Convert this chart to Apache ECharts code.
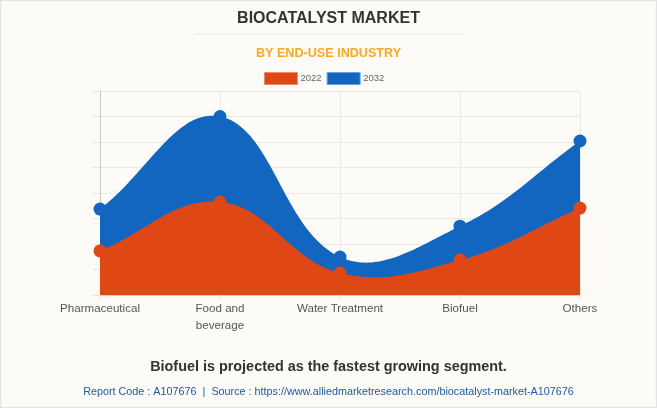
<!DOCTYPE html>
<html>
<head>
<meta charset="utf-8">
<style>
html,body{margin:0;padding:0;background:#fcfbf7;}
#main{width:657px;height:408px;}
</style>
<script src="https://cdn.jsdelivr.net/npm/echarts@6/dist/echarts.min.js"></script>
</head>
<body>
<div id="main"></div>
<script>
var categories = ['Pharmaceutical', 'Food and\nbeverage', 'Water Treatment', 'Biofuel', 'Others'];
var values2022 = [1.73, 3.65, 0.86, 1.37, 3.41];
var values2032 = [3.37, 7.0, 1.49, 2.7, 6.04];
var colour2022 = '#df4814';
var colour2032 = '#1266c0';
var fontName = '"Liberation Sans", Arial, sans-serif';

// same curve the original chart has (it dips below the points, echarts smooth does not)
function curvePoints(api, values) {
    var pts = values.map(function (v, i) { return api.coord([i, v]); });
    var out = [];
    var tension = 0.4;
    function dist(a, b) { return Math.sqrt(Math.pow(a[0] - b[0], 2) + Math.pow(a[1] - b[1], 2)); }
    var ctrl = pts.map(function (p, i) {
        var prev = pts[i - 1] || p;
        var next = pts[i + 1] || p;
        var d1 = dist(prev, p);
        var d2 = dist(p, next);
        var s1 = d1 / (d1 + d2);
        var s2 = d2 / (d1 + d2);
        return {
            before: [p[0] - tension * s1 * (next[0] - prev[0]), p[1] - tension * s1 * (next[1] - prev[1])],
            after: [p[0] + tension * s2 * (next[0] - prev[0]), p[1] + tension * s2 * (next[1] - prev[1])]
        };
    });
    for (var i = 0; i < pts.length - 1; i++) {
        var a = pts[i], b = ctrl[i].after, c = ctrl[i + 1].before, d = pts[i + 1];
        for (var k = 0; k < 40; k++) {
            var t = k / 40, u = 1 - t;
            out.push([
                u * u * u * a[0] + 3 * u * u * t * b[0] + 3 * u * t * t * c[0] + t * t * t * d[0],
                u * u * u * a[1] + 3 * u * u * t * b[1] + 3 * u * t * t * c[1] + t * t * t * d[1]
            ]);
        }
    }
    out.push(pts[pts.length - 1]);
    return out;
}

function areaSeries(name, values, colour, z) {
    return {
        name: name,
        type: 'custom',
        z: z,
        silent: true,
        clip: false,
        data: values.map(function (v, i) { return [i, v]; }),
        renderItem: function (params, api) {
            if (params.dataIndex !== 0) return null;
            var points = curvePoints(api, values);
            points.push(api.coord([values.length - 1, 0]));
            points.push(api.coord([0, 0]));
            return { type: 'polygon', shape: { points: points }, style: { fill: colour } };
        }
    };
}

function dotSeries(name, values, colour, z) {
    return {
        name: name,
        type: 'line',
        z: z,
        data: values,
        symbol: 'circle',
        symbolSize: 13,
        showAllSymbol: true,
        clip: false,
        itemStyle: { color: colour },
        lineStyle: { width: 0, opacity: 0 }
    };
}

var myChart = echarts.init(document.getElementById('main'));
var option = {
    animation: false,
    backgroundColor: '#fcfbf7',
    textStyle: { fontFamily: fontName },
    title: [
        { text: 'BIOCATALYST MARKET', left: 'center', top: 6, textStyle: { fontSize: 16, fontWeight: 'bold', color: '#333333', fontFamily: fontName } },
        { text: 'BY END-USE INDUSTRY', left: 'center', top: 42, textStyle: { fontSize: 12.6, fontWeight: 'bold', color: '#f9a825', fontFamily: fontName } },
        { text: 'Biofuel is projected as the fastest growing segment.', left: 'center', top: 355, textStyle: { fontSize: 14.4, fontWeight: 'bold', color: '#333333', fontFamily: fontName } },
        { text: 'Report Code : A107676  |  Source : https://www.alliedmarketresearch.com/biocatalyst-market-A107676', left: 'center', top: 382, textStyle: { fontSize: 10.8, fontWeight: 'normal', color: '#1f5aa6', fontFamily: fontName } }
    ],
    legend: {
        top: 67,
        left: 259,
        itemWidth: 33,
        itemHeight: 12,
        itemGap: 5,
        textStyle: { fontSize: 9.5, color: '#666666', fontFamily: fontName, padding: [0, 0, 0, -2] },
        data: [
            { name: '2022', icon: 'rect', itemStyle: { color: colour2022, borderColor: '#ee8a66', borderWidth: 1 } },
            { name: '2032', icon: 'rect', itemStyle: { color: colour2032, borderColor: '#6a9fdc', borderWidth: 1 } }
        ]
    },
    grid: { left: 100, top: 91, width: 480, height: 204 },
    xAxis: {
        type: 'category',
        boundaryGap: false,
        data: categories,
        axisLine: { lineStyle: { color: '#cfcfcb', width: 1 } },
        axisTick: { length: 5, lineStyle: { color: '#e6e6e2' } },
        splitLine: { show: true, lineStyle: { color: '#eaeae6', width: 1 } },
        axisLabel: { fontSize: 11.6, color: '#555555', lineHeight: 17, margin: 5, interval: 0, fontFamily: fontName }
    },
    yAxis: {
        type: 'value',
        min: 0,
        max: 8,
        interval: 1,
        axisLine: { show: true, lineStyle: { color: '#c8c8c4', width: 1 } },
        axisTick: { show: true, length: 7, lineStyle: { color: '#e6e6e2' } },
        axisLabel: { show: false },
        splitLine: { show: true, lineStyle: { color: '#eaeae6', width: 1 } }
    },
    graphic: [
        { type: 'rect', silent: true, shape: { x: 0.5, y: 0.5, width: 656, height: 407 }, style: { fill: 'none', stroke: '#e4e4e4', lineWidth: 1.5 } },
        { type: 'line', silent: true, shape: { x1: 194, y1: 34, x2: 464, y2: 34 }, style: { stroke: '#efefeb', lineWidth: 1.5 } }
    ],
    series: [
        areaSeries('2032', values2032, colour2032, 2),
        dotSeries('2032', values2032, colour2032, 3),
        areaSeries('2022', values2022, colour2022, 4),
        dotSeries('2022', values2022, colour2022, 5)
    ]
};
myChart.setOption(option);
</script>
</body>
</html>
